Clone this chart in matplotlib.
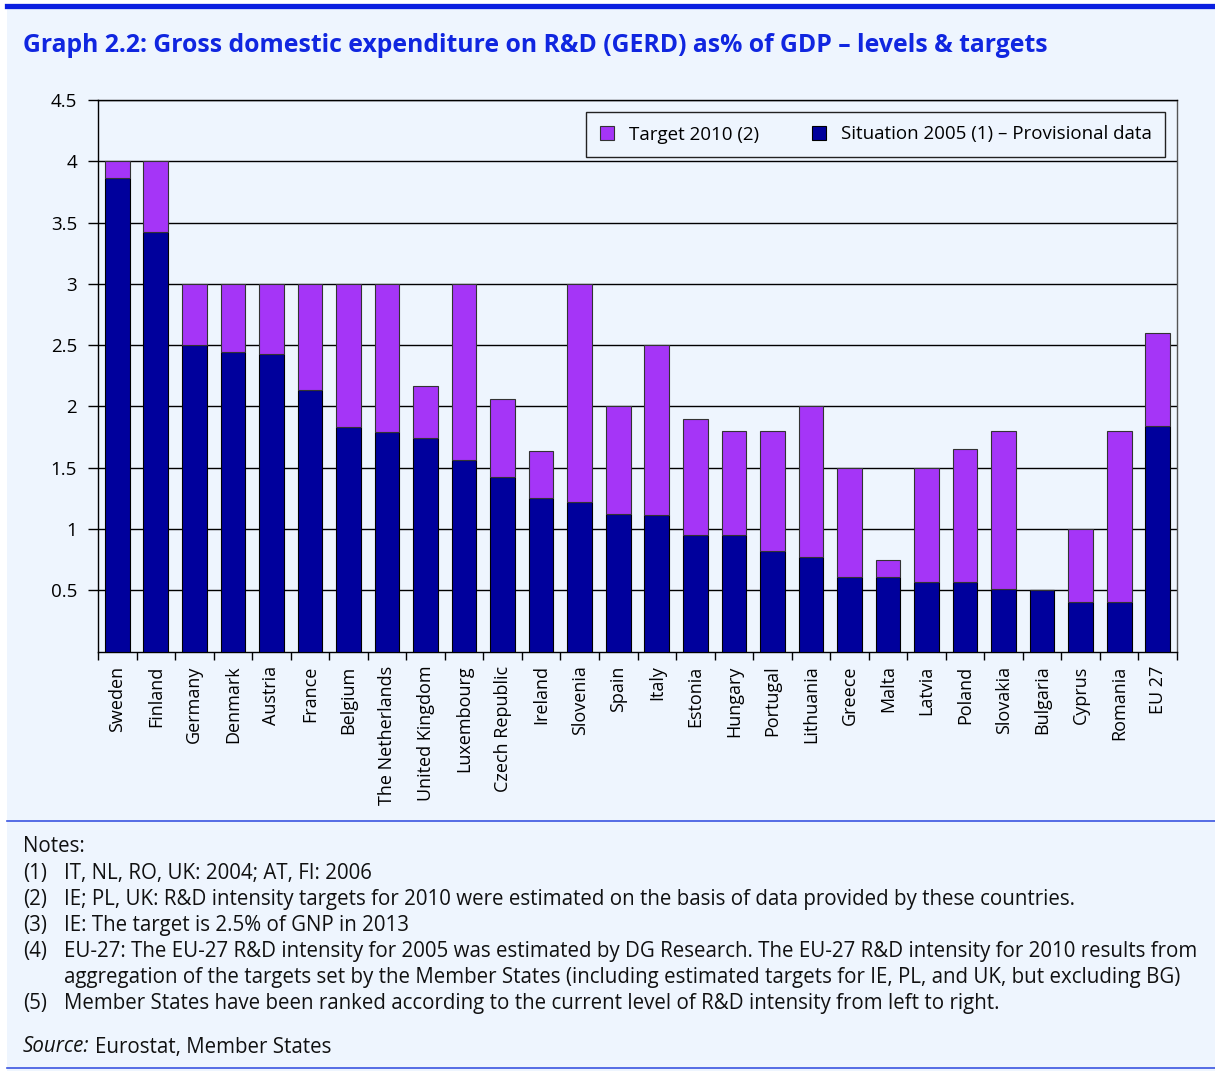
import matplotlib
matplotlib.use('Agg')
import matplotlib.pyplot as plt
import numpy as np
from matplotlib.lines import Line2D
from matplotlib.patches import Rectangle

countries = ['Sweden', 'Finland', 'Germany', 'Denmark', 'Austria', 'France', 'Belgium',
             'The Netherlands', 'United Kingdom', 'Luxembourg', 'Czech Republic', 'Ireland',
             'Slovenia', 'Spain', 'Italy', 'Estonia', 'Hungary', 'Portugal', 'Lithuania',
             'Greece', 'Malta', 'Latvia', 'Poland', 'Slovakia', 'Bulgaria', 'Cyprus',
             'Romania', 'EU 27']
situation_2005 = [3.86, 3.42, 2.50, 2.44, 2.43, 2.13, 1.83, 1.79, 1.74, 1.56, 1.42, 1.25,
                  1.22, 1.12, 1.11, 0.95, 0.95, 0.82, 0.77, 0.61, 0.61, 0.57, 0.57, 0.51,
                  0.50, 0.40, 0.40, 1.84]
target_2010 = [4.0, 4.0, 3.0, 3.0, 3.0, 3.0, 3.0, 3.0, 2.17, 3.0, 2.06, 1.64,
               3.0, 2.0, 2.5, 1.9, 1.8, 1.8, 2.0, 1.5, 0.75, 1.5, 1.65, 1.8,
               0.50, 1.0, 1.8, 2.6]
yticks = [0.5, 1, 1.5, 2, 2.5, 3, 3.5, 4, 4.5]
ytick_labels = ['0.5', '1', '1.5', '2', '2.5', '3', '3.5', '4', '4.5']
note_nums = ['(1)', '(2)', '(3)', '(4)', '', '(5)']
note_texts = ['IT, NL, RO, UK: 2004; AT, FI: 2006',
              'IE; PL, UK: R&D intensity targets for 2010 were estimated on the basis of data provided by these countries.',
              'IE: The target is 2.5% of GNP in 2013',
              'EU-27: The EU-27 R&D intensity for 2005 was estimated by DG Research. The EU-27 R&D intensity for 2010 results from',
              'aggregation of the targets set by the Member States (including estimated targets for IE, PL, and UK, but excluding BG)',
              'Member States have been ranked according to the current level of R&D intensity from left to right.']

bg = '#eef5fe'
dark = '#00009c'
purple = '#a535f7'
blue = '#1026e0'

plt.rcParams['font.family'] = ['Open Sans', 'DejaVu Sans']

W, H = 1215, 1071
fig = plt.figure(figsize=(W / 100, H / 100), dpi=100)
fig.patch.set_facecolor('white')

# light blue panel and blue rules
fig.patches.append(Rectangle((7 / W, 0), 1 - 7 / W, 1 - 8 / H, transform=fig.transFigure,
                             facecolor=bg, edgecolor='none', zorder=-10))
fig.add_artist(Line2D([7 / W, 1], [1 - 5.5 / H, 1 - 5.5 / H], color='#0a1fe0', lw=3.8))
fig.add_artist(Line2D([7 / W, 1], [1 - 821 / H, 1 - 821 / H], color='#3a55e0', lw=1.2))
fig.add_artist(Line2D([7 / W, 1], [1 - 1068 / H, 1 - 1068 / H], color='#3a55e0', lw=1.2))

fig.text(23 / W, 1 - 46 / H, 'Graph 2.2: Gross domestic expenditure on R&D (GERD) as% of GDP – levels & targets',
         color=blue, fontsize=17.8, fontweight='bold', va='center', ha='left')

ax = fig.add_axes([98 / W, 1 - 651.5 / H, (1177 - 98) / W, (651.5 - 100) / H])
ax.set_facecolor(bg)

x = np.arange(len(countries))
sit = np.array(situation_2005)
tgt = np.array(target_2010)
ax.bar(x, sit, width=0.64, color=dark, edgecolor='black', linewidth=0.8,
       label='Situation 2005 (1) – Provisional data', zorder=3)
ax.bar(x, tgt - sit, bottom=sit, width=0.64, color=purple, edgecolor='#333333', linewidth=0.8,
       label='Target 2010 (2)', zorder=3)

ax.set_xlim(-0.5, len(countries) - 0.5)
ax.set_ylim(0, 4.5)
ax.set_yticks(yticks)
ax.set_yticklabels(ytick_labels, fontsize=13.5)
ax.yaxis.grid(True, color='black', linewidth=1.0, zorder=0)
ax.set_axisbelow(True)

ax.set_xticks(x)
ax.set_xticklabels(countries, rotation=90, fontsize=13)
ax.set_xticks(np.arange(-0.5, len(countries)), minor=True)
ax.tick_params(axis='x', which='major', length=0, pad=10)
ax.tick_params(axis='x', which='minor', length=6, width=1, direction='out')
ax.tick_params(axis='y', length=7, width=1, direction='out', pad=8)
for s in ax.spines.values():
    s.set_linewidth(1.0)
    s.set_color('black')
ax.spines['right'].set_color('#555555')

handles, labels = ax.get_legend_handles_labels()
leg = ax.legend(handles[::-1], labels[::-1], ncol=2, loc='upper right',
                bbox_to_anchor=((1165 - 98) / (1177 - 98), 1 - 12 / 551.5), fontsize=13.5,
                frameon=True, fancybox=False, handlelength=0.75, handleheight=0.75,
                columnspacing=2.8, borderpad=0.72, handletextpad=0.8, borderaxespad=0)
leg.get_frame().set_facecolor(bg)
leg.get_frame().set_edgecolor('#222222')
leg.get_frame().set_linewidth(1.0)
leg.get_frame().set_alpha(1)

fs = 14.8
fig.text(23 / W, 1 - 847 / H, 'Notes:', fontsize=fs, va='center', ha='left', color='#111111')
y0 = 873
for i, (num, txt) in enumerate(zip(note_nums, note_texts)):
    yy = 1 - (y0 + i * 26.2) / H
    if num:
        fig.text(23 / W, yy, num, fontsize=fs, va='center', ha='left', color='#111111')
    fig.text(64 / W, yy, txt, fontsize=fs, va='center', ha='left', color='#111111')
src = fig.text(23 / W, 1 - 1047 / H, 'Source:', fontsize=fs, style='italic', va='center',
               ha='left', color='#111111')
ax.annotate('Eurostat, Member States', xy=(1, 0.5), xycoords=src, xytext=(4, 0),
            textcoords='offset points', fontsize=fs, va='center', ha='left', color='#111111',
            annotation_clip=False)

fig.savefig('out.png', dpi=100, facecolor=fig.get_facecolor())
